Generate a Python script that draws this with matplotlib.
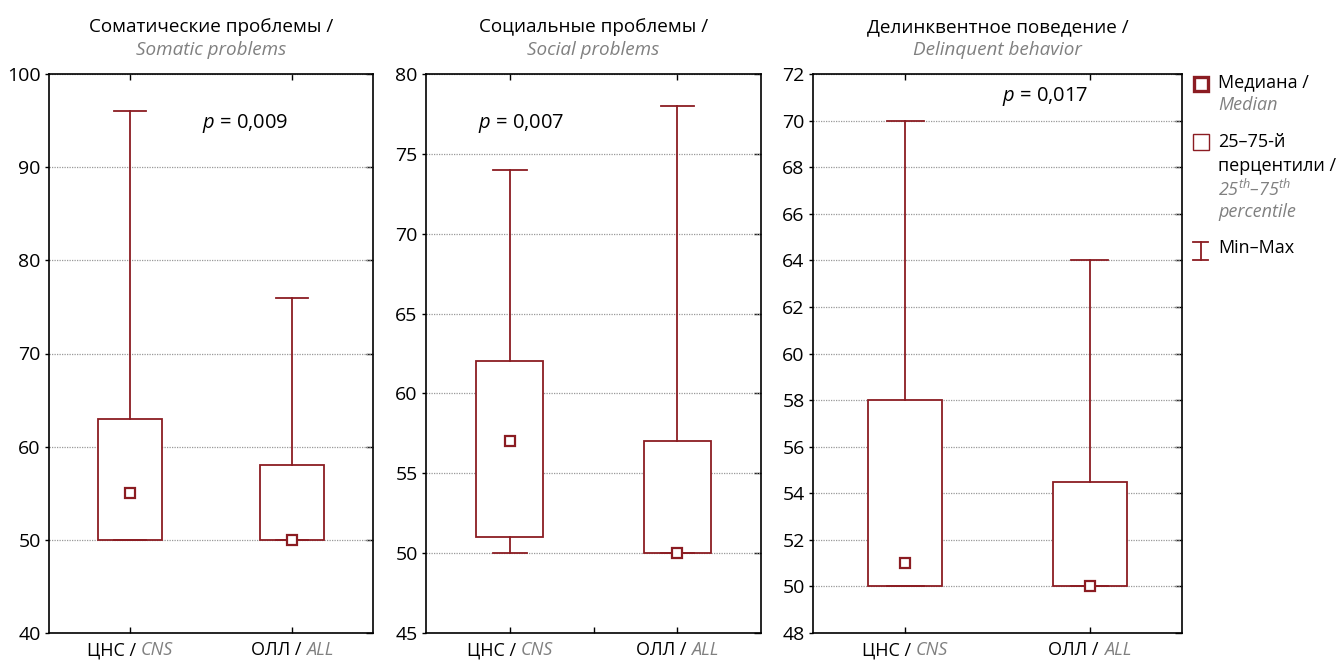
import matplotlib
matplotlib.use('Agg')
import matplotlib.pyplot as plt
from matplotlib.offsetbox import TextArea, HPacker, AnnotationBbox
from matplotlib.lines import Line2D

plt.rcParams['font.family'] = ['Open Sans', 'DejaVu Sans']
plt.rcParams['mathtext.fontset'] = 'custom'
plt.rcParams['mathtext.it'] = 'Open Sans:italic'
plt.rcParams['mathtext.rm'] = 'Open Sans'

# data
groups_ru = ['ЦНС', 'ОЛЛ']
groups_en = ['CNS', 'ALL']
titles_ru = ['Соматические проблемы /', 'Социальные проблемы /', 'Делинквентное поведение /']
titles_en = ['Somatic problems', 'Social problems', 'Delinquent behavior']
p_values = ['0,009', '0,007', '0,017']
mins = [[50, 50], [50, 50], [50, 50]]
q1s = [[50, 50], [51, 50], [50, 50]]
medians = [[55, 50], [57, 50], [51, 50]]
q3s = [[63, 58], [62, 57], [58, 54.5]]
maxs = [[96, 76], [74, 78], [70, 64]]
y_limits = [(40, 100), (45, 80), (48, 72)]
y_steps = [10, 5, 2]

RED = '#8b1c22'
GRAY = '#808080'
FS = 13

W, H = 1341, 660
fig = plt.figure(figsize=(W / 100, H / 100), dpi=100)

# axes boxes in pixels: left, right
boxes = [(49, 373), (426, 761), (813, 1182)]
top, bottom = 74, 633
p_pos = [(0.605, 0.912), (0.284, 0.912), (0.629, 0.959)]


def px(x, y):
    return x / W, 1 - y / H


for k in range(3):
    l, r = boxes[k]
    ax = fig.add_axes([l / W, 1 - bottom / H, (r - l) / W, (bottom - top) / H])
    stats = []
    for i in range(2):
        stats.append({'med': medians[k][i], 'q1': q1s[k][i], 'q3': q3s[k][i],
                      'whislo': mins[k][i], 'whishi': maxs[k][i], 'fliers': []})
    ax.bxp(stats, positions=[0, 1], widths=0.4, capwidths=0.2, patch_artist=True,
           showfliers=False,
           boxprops=dict(facecolor='white', edgecolor=RED, linewidth=1.3),
           whiskerprops=dict(color=RED, linewidth=1.3),
           capprops=dict(color=RED, linewidth=1.3),
           medianprops=dict(linestyle='none'))
    ax.plot([0, 1], medians[k], linestyle='none', marker='s', markersize=7,
            markerfacecolor='white', markeredgecolor=RED, markeredgewidth=1.6, zorder=5)

    lo, hi = y_limits[k]
    ax.set_ylim(lo, hi)
    ax.set_xlim(-0.5, 1.5)
    ax.set_yticks(range(lo, hi + 1, y_steps[k]))
    ax.set_xticks([0, 1])
    ax.set_xticklabels([])
    if k == 1:
        ax.set_xticks([0.5], minor=True)
    ax.tick_params(axis='x', which='both', direction='in', top=True, bottom=True, length=4, width=1)
    ax.tick_params(axis='x', which='minor', top=False)
    ax.tick_params(axis='y', direction='out', length=3, width=1, labelsize=14, pad=3)
    sec = ax.secondary_yaxis('right')
    sec.set_yticks(range(lo, hi + 1, y_steps[k]))
    sec.tick_params(direction='in', length=5, width=1, labelright=False)
    sec.spines['right'].set_visible(False)
    ax.yaxis.grid(True, linestyle=(0, (1, 1)), color='#999999', linewidth=0.9)
    ax.set_axisbelow(True)
    for s in ax.spines.values():
        s.set_linewidth(1.2)

    # titles
    ax.text(0.5, 1.084, titles_ru[k], transform=ax.transAxes, ha='center', va='center', fontsize=13.6)
    ax.text(0.5, 1.043, titles_en[k], transform=ax.transAxes, ha='center', va='center',
            fontsize=13.6, color=GRAY, style='italic')

    # p value
    ax.text(p_pos[k][0], p_pos[k][1], r'$p$ = ' + p_values[k], transform=ax.transAxes,
            ha='center', va='center', fontsize=14.5)

    # category labels
    for i in range(2):
        lab = HPacker(children=[TextArea(groups_ru[i] + ' / ', textprops=dict(fontsize=FS)),
                                TextArea(groups_en[i], textprops=dict(fontsize=FS, color=GRAY,
                                                                      style='italic'))],
                      sep=0, pad=0, align='baseline')
        ab = AnnotationBbox(lab, (i, -0.031), xycoords=('data', 'axes fraction'),
                            box_alignment=(0.5, 0.5), frameon=False, pad=0,
                            annotation_clip=False)
        ax.add_artist(ab)

# legend drawn by hand on the right
LFS = 13
tx = 1218 / W
fig.add_artist(Line2D([px(1201, 84)[0]], [px(1201, 84)[1]], marker='s', markersize=10,
                      markerfacecolor='white', markeredgecolor=RED, markeredgewidth=2.4,
                      transform=fig.transFigure))
fig.text(tx, px(0, 82)[1], 'Медиана /', fontsize=LFS, va='center')
fig.text(tx, px(0, 105)[1], 'Median', fontsize=LFS, va='center', color=GRAY, style='italic')

fig.add_artist(Line2D([px(1201, 142)[0]], [px(1201, 142)[1]], marker='s', markersize=12,
                      markerfacecolor='white', markeredgecolor=RED, markeredgewidth=1.0,
                      transform=fig.transFigure))
fig.text(tx, px(0, 142)[1], '25–75-й', fontsize=LFS, va='center')
fig.text(tx, px(0, 166)[1], 'перцентили /', fontsize=LFS, va='center')
fig.text(tx, px(0, 189)[1], r'25$^{th}$–75$^{th}$', fontsize=LFS, va='center',
         color=GRAY, style='italic')
fig.text(tx, px(0, 212)[1], 'percentile', fontsize=LFS, va='center', color=GRAY, style='italic')

segs = [([1193, 1208], [242, 242]), ([1200.5, 1200.5], [242, 260]), ([1193, 1208], [260, 260])]
for xs, ys in segs:
    fig.add_artist(Line2D([x / W for x in xs], [1 - y / H for y in ys], color=RED,
                          linewidth=1.3, transform=fig.transFigure))
fig.text(tx, px(0, 248)[1], 'Min–Max', fontsize=LFS, va='center')

fig.savefig('out.png', dpi=100)
